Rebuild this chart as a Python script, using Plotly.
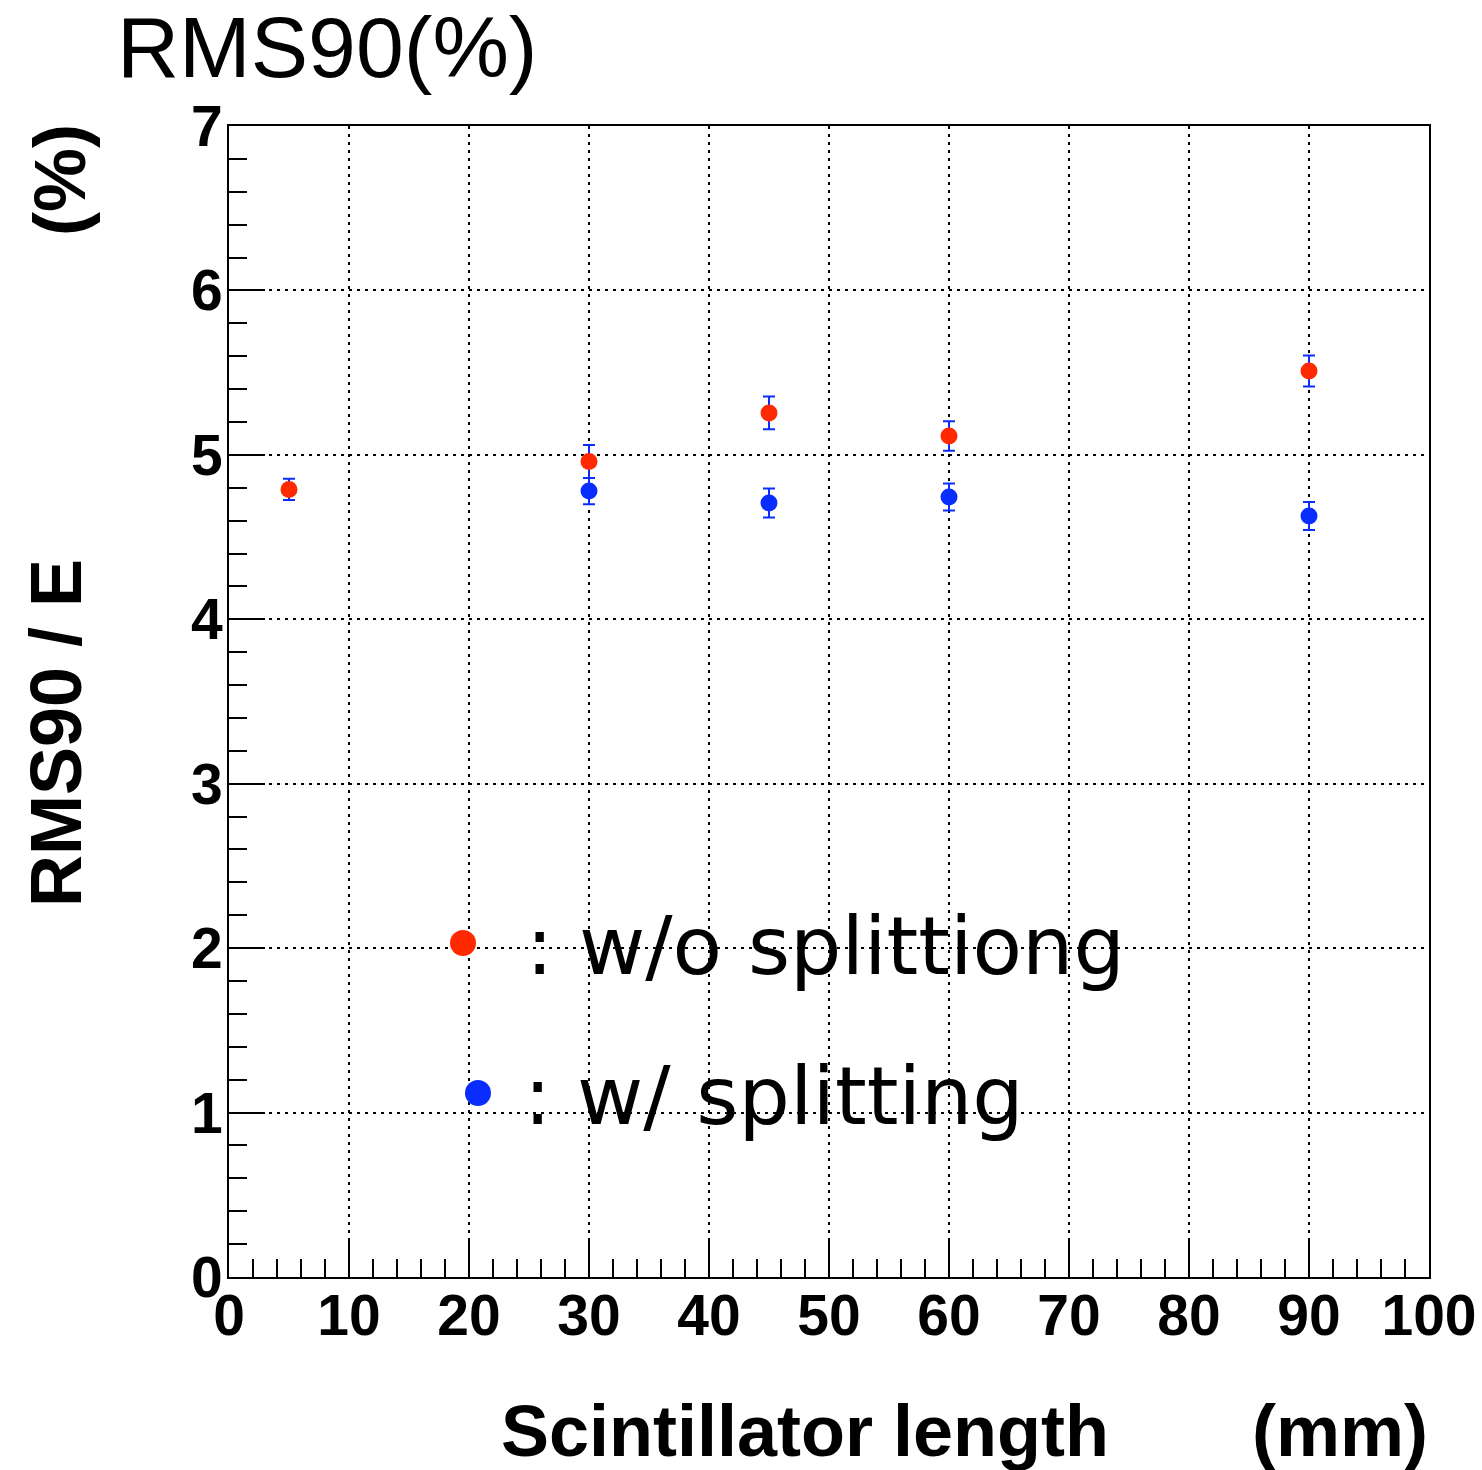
import plotly.graph_objects as go

# Data
x_wo = [5, 30, 45, 60, 90]
y_wo = [4.79, 4.96, 5.255, 5.115, 5.51]
e_wo = [0.065, 0.10, 0.10, 0.09, 0.094]

x_w = [30, 45, 60, 90]
y_w = [4.78, 4.707, 4.744, 4.628]
e_w = [0.08, 0.088, 0.082, 0.085]

RED = "rgb(255,42,0)"
BLUE = "rgb(10,45,255)"

W, H = 1482, 1470
L, R, T, B = 229, 53, 126, 193
PW, PH = W - L - R, H - T - B

def px(xp):
    return (xp - L) / PW

def py(yp):
    return (H - B - yp) / PH

fig = go.Figure()
fig.add_trace(go.Scatter(
    x=x_wo, y=y_wo, mode="markers",
    marker=dict(color=RED, size=17),
    error_y=dict(type="data", array=e_wo, color=BLUE, thickness=2, width=6),
    showlegend=False))
fig.add_trace(go.Scatter(
    x=x_w, y=y_w, mode="markers",
    marker=dict(color=BLUE, size=17),
    error_y=dict(type="data", array=e_w, color=BLUE, thickness=2, width=6),
    showlegend=False))

tickfont = dict(family="Liberation Sans", size=57, color="black", weight="bold")
axis_common = dict(
    showline=True, linecolor="black", linewidth=2, mirror=True,
    ticks="inside", ticklen=36, tickwidth=2, tickcolor="black",
    showgrid=True, gridcolor="black", gridwidth=2, griddash="3px,5px",
    zeroline=False, tickfont=tickfont, automargin=False,
)
fig.update_xaxes(range=[0, 100], dtick=10, tick0=0, ticklabelstandoff=-12,
                 minor=dict(dtick=2, ticklen=18, tickwidth=2, tickcolor="black", ticks="inside", showgrid=False),
                 **axis_common)
fig.update_yaxes(range=[0, 7], dtick=1, tick0=0, ticklabelstandoff=-7,
                 minor=dict(dtick=0.2, ticklen=18, tickwidth=2, tickcolor="black", ticks="inside", showgrid=False),
                 **axis_common)

# legend-like dots
for cx, cy, col, r in [(463, 943, RED, 13), (478, 1093, BLUE, 13)]:
    fig.add_shape(type="circle", xref="paper", yref="paper",
                  x0=px(cx - r), x1=px(cx + r), y0=py(cy + r), y1=py(cy - r),
                  fillcolor=col, line=dict(width=0))

legfont = dict(family="DejaVu Sans", size=81, color="black")
fig.add_annotation(text=": w/o splittiong", xref="paper", yref="paper",
                   x=px(524), y=py(946), xanchor="left", yanchor="middle",
                   showarrow=False, font=legfont)
fig.add_annotation(text=": w/ splitting", xref="paper", yref="paper",
                   x=px(522), y=py(1096), xanchor="left", yanchor="middle",
                   showarrow=False, font=legfont)

# titles
fig.add_annotation(text="RMS90(%)", xref="paper", yref="paper",
                   x=px(115), y=py(47), xanchor="left", yanchor="middle",
                   showarrow=False, font=dict(family="Liberation Sans", size=86, color="black"))
titlefont = dict(family="Liberation Sans", size=72, color="black", weight="bold")
fig.add_annotation(text="RMS90 / E", xref="paper", yref="paper",
                   x=px(56), y=py(733), xanchor="center", yanchor="middle",
                   textangle=-90, showarrow=False, font=titlefont)
fig.add_annotation(text="(%)", xref="paper", yref="paper",
                   x=px(60), y=py(180), xanchor="center", yanchor="middle",
                   textangle=-90, showarrow=False, font=titlefont)
fig.add_annotation(text="Scintillator length", xref="paper", yref="paper",
                   x=px(499), y=py(1431), xanchor="left", yanchor="middle",
                   showarrow=False, font=titlefont)
fig.add_annotation(text="(mm)", xref="paper", yref="paper",
                   x=px(1430), y=py(1431), xanchor="right", yanchor="middle",
                   showarrow=False, font=titlefont)

fig.update_layout(
    width=W, height=H,
    margin=dict(l=L, r=R, t=T, b=B, pad=0, autoexpand=False),
    paper_bgcolor="white", plot_bgcolor="white",
    showlegend=False,
)
fig.write_html("out.html")
